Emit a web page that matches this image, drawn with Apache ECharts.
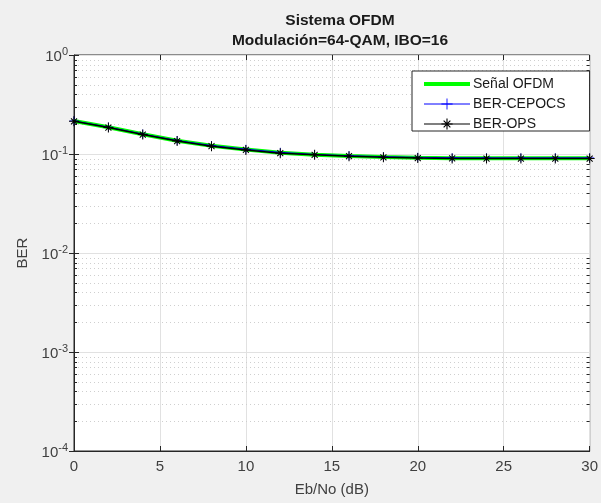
<!DOCTYPE html>
<html>
<head>
<meta charset="utf-8">
<script src="https://cdn.jsdelivr.net/npm/echarts@6/dist/echarts.min.js"></script>
<style>
  html, body { margin: 0; padding: 0; background: #f0f0f0; }
  #chart { width: 601px; height: 503px; }
</style>
</head>
<body>
<div id="chart"></div>
<script>
// Eb/No sweep (dB)
const ebno = [0, 2, 4, 6, 8, 10, 12, 14, 16, 18, 20, 22, 24, 26, 28, 30];
// Bit error rate for each receiver
const berOfdm   = [0.215, 0.186, 0.158, 0.136, 0.121, 0.111, 0.103, 0.0985, 0.0955, 0.0930, 0.0915, 0.0908, 0.0905, 0.0905, 0.0905, 0.0905];
const berCepocs = [0.216, 0.187, 0.159, 0.137, 0.122, 0.112, 0.104, 0.0990, 0.0962, 0.0940, 0.0925, 0.0918, 0.0915, 0.0915, 0.0915, 0.0915];
const berOps    = [0.214, 0.185, 0.157, 0.135, 0.120, 0.110, 0.102, 0.0980, 0.0950, 0.0925, 0.0910, 0.0903, 0.0900, 0.0900, 0.0900, 0.0900];
const seriesNames = ['Señal OFDM', 'BER-CEPOCS', 'BER-OPS'];
const xTicks = [0, 5, 10, 15, 20, 25, 30];

// minor grid values 2..9 x 10^k inside each decade
const minorVals = [];
for (let k = -4; k < 0; k++) {
  for (let m = 2; m <= 9; m++) minorVals.push([0, m * Math.pow(10, k)]);
}

const pair = (xs, ys) => xs.map((x, i) => [x, ys[i]]);

const asterisk = 'path://M9 0H11V20H9Z M0 9H20V11H0Z M3.3 4.7L4.7 3.3L16.7 15.3L15.3 16.7Z M15.3 3.3L16.7 4.7L4.7 16.7L3.3 15.3Z';
const plus = 'path://M9.2 0H10.8V20H9.2Z M0 9.2H20V10.8H0Z';

const axisColor = '#262626';
const labelColor = '#404040';
const font = 'Liberation Sans, Arial, Helvetica, sans-serif';

const chart = echarts.init(document.getElementById('chart'), null, { renderer: 'canvas' });

chart.setOption({
  backgroundColor: '#f0f0f0',
  animation: false,
  textStyle: { fontFamily: font },
  title: {
    text: 'Sistema OFDM\nModulación=64-QAM, IBO=16',
    left: 335,
    top: 6,
    textAlign: 'center',
    textStyle: { fontSize: 15.5, fontWeight: 'bold', color: '#1a1a1a', lineHeight: 20, fontFamily: font }
  },
  grid: {
    left: 74, right: 6, top: 55, bottom: 52,
    show: true, backgroundColor: '#ffffff', borderColor: axisColor, borderWidth: 1
  },
  legend: {
    data: [
      { name: seriesNames[0], itemStyle: { opacity: 0 }, lineStyle: { width: 4, color: '#00ff00' } },
      { name: seriesNames[1], lineStyle: { width: 1, color: '#0000ff' } },
      { name: seriesNames[2], lineStyle: { width: 1.2, color: '#000000' } }
    ],
    orient: 'vertical',
    left: 412,
    top: 71,
    padding: [6, 24, 0, 10],
    itemWidth: 46,
    itemHeight: 14,
    itemGap: 6,
    backgroundColor: '#ffffff',
    borderColor: axisColor,
    borderWidth: 1,
    borderRadius: 0,
    textStyle: { fontSize: 14, color: '#1a1a1a', fontFamily: font, padding: [0, 0, 0, -2] }
  },
  xAxis: [{
    type: 'value',
    min: 0, max: 30, interval: 5,
    name: 'Eb/No (dB)',
    nameLocation: 'middle',
    nameGap: 31,
    nameTextStyle: { fontSize: 15, color: labelColor, fontFamily: font },
    axisLine: { show: true, lineStyle: { color: axisColor } },
    axisTick: { show: true, inside: true, length: 5, lineStyle: { color: axisColor } },
    axisLabel: { fontSize: 15, color: labelColor, margin: 8, fontFamily: font,
      formatter: v => xTicks.includes(v) ? String(v) : '' },
    splitLine: { show: true, lineStyle: { color: '#e1e1e1', width: 1 } }
  }, {
    type: 'value',
    position: 'top',
    min: 0, max: 30, interval: 5,
    axisLine: { show: false },
    axisTick: { show: true, inside: true, length: 5, lineStyle: { color: axisColor } },
    axisLabel: { show: false },
    splitLine: { show: false }
  }],
  yAxis: [{
    type: 'log',
    logBase: 10,
    min: 1e-4, max: 1,
    name: 'BER',
    nameLocation: 'middle',
    nameGap: 43,
    nameTextStyle: { fontSize: 15, color: labelColor, fontFamily: font },
    axisLine: { show: true, lineStyle: { color: axisColor } },
    axisTick: { show: true, inside: true, length: 5, lineStyle: { color: axisColor } },
    axisLabel: {
      margin: 6,
      fontFamily: font,
      formatter: v => '{b|10}{s|' + Math.round(Math.log10(v)) + '}',
      rich: {
        b: { fontSize: 15, color: labelColor, fontFamily: font, verticalAlign: 'bottom', lineHeight: 18 },
        s: { fontSize: 11, color: labelColor, fontFamily: font, verticalAlign: 'top', padding: [0, 0, 9, 0], lineHeight: 18 }
      }
    },
    splitLine: { show: true, lineStyle: { color: '#e1e1e1', width: 1 } }
  }, {
    type: 'log',
    logBase: 10,
    min: 1e-4, max: 1,
    position: 'right',
    axisLine: { show: false },
    axisTick: { show: true, inside: true, length: 5, lineStyle: { color: axisColor } },
    axisLabel: { show: false },
    splitLine: { show: false }
  }],
  series: [
    {
      // dotted minor grid and minor ticks on both log edges
      type: 'custom',
      silent: true,
      z: 1,
      xAxisIndex: 0, yAxisIndex: 0,
      data: minorVals,
      renderItem: (params, api) => {
        const cs = params.coordSys;
        const y = Math.round(api.coord([0, api.value(1)])[1]) + 0.5;
        const x0 = cs.x, x1 = cs.x + cs.width;
        return {
          type: 'group',
          children: [
            { type: 'line', shape: { x1: x0, y1: y, x2: x1, y2: y },
              style: { stroke: '#cfcfcf', lineWidth: 1, lineDash: [1, 3] } },
            { type: 'line', shape: { x1: x0, y1: y, x2: x0 + 3, y2: y },
              style: { stroke: axisColor, lineWidth: 1 } },
            { type: 'line', shape: { x1: x1 - 3, y1: y, x2: x1, y2: y },
              style: { stroke: axisColor, lineWidth: 1 } }
          ]
        };
      }
    },
    {
      name: seriesNames[0],
      type: 'line',
      data: pair(ebno, berOfdm),
      symbol: 'none',
      lineStyle: { color: '#00ff00', width: 4 },
      itemStyle: { color: '#00ff00' },
      z: 3
    },
    {
      name: seriesNames[1],
      type: 'line',
      data: pair(ebno, berCepocs),
      symbol: plus,
      symbolSize: 9,
      lineStyle: { color: '#0000ff', width: 1 },
      itemStyle: { color: '#0000ff', borderWidth: 0 },
      z: 4
    },
    {
      name: seriesNames[2],
      type: 'line',
      data: pair(ebno, berOps),
      symbol: asterisk,
      symbolSize: 10,
      lineStyle: { color: '#000000', width: 1.5 },
      itemStyle: { color: '#000000', borderWidth: 0 },
      z: 5
    }
  ]
});
</script>
</body>
</html>
